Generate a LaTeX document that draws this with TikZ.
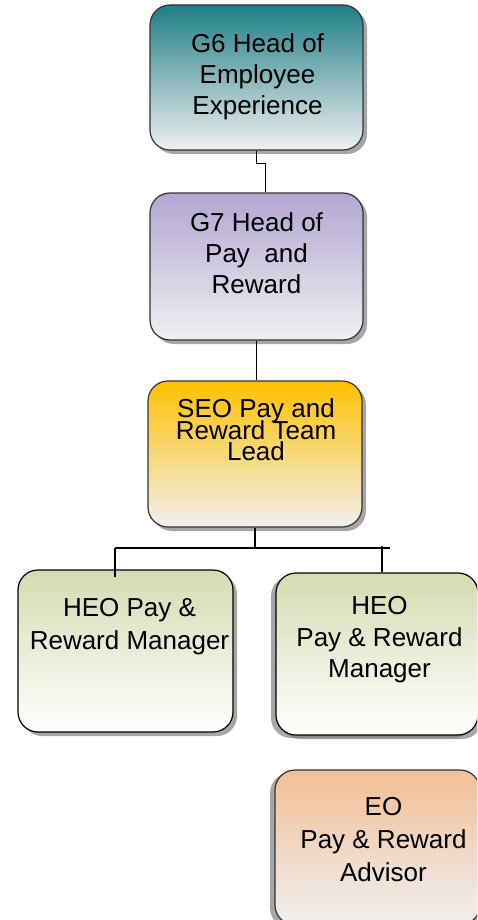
\documentclass[tikz,border=0pt]{standalone}
\usepackage{fontspec}
\setmainfont{Liberation Sans}
\usetikzlibrary{shadows}

\definecolor{g6top}{HTML}{1F7E86}
\definecolor{g7top}{HTML}{B2A6D1}
\definecolor{seotop}{HTML}{FFC000}
\definecolor{heotop}{HTML}{D4DCB0}
\definecolor{eotop}{HTML}{F2BF96}
\definecolor{paleend}{HTML}{F0F0F0}

\lineskiplimit=-100pt

\tikzset{
  post/.style={rectangle, draw=black!80, line width=1.2pt, rounded corners=20pt,
    inner sep=0pt, bottom color=paleend,
    drop shadow={shadow xshift=4pt, shadow yshift=-4pt, fill=black!50, opacity=0.7}},
  leftshadow/.style={drop shadow={shadow xshift=-5pt, shadow yshift=-3pt, fill=black!50, opacity=0.7}},
  txt/.style={align=center, inner sep=0pt, font=\fontsize{26}{31}\selectfont},
  link/.style={line width=1.3pt}
}

\begin{document}
\begin{tikzpicture}[x=1pt, y=-1pt]
	\path[use as bounding box, clip] (0,0) rectangle (477,920);

	% Top of the tree
	\node[post, minimum width=213pt, minimum height=145pt, top color=g6top] (g6) at (256.5,77.5) {};
	\node[txt] (g6txt) at (257.5,76.5) {G6 Head of\\Employee\\Experience};

	\node[post, minimum width=213pt, minimum height=147pt, top color=g7top] (g7) at (256.5,266.5) {};
	\node[txt] (g7txt) at (256.5,253.5) {G7 Head of\\Pay \ and\\Reward};

	\node[post, minimum width=214pt, minimum height=146pt, top color=seotop] (seo) at (255,454) {};
	\node[txt, font=\fontsize{26}{21.5}\selectfont] (seotxt) at (256,430) {SEO Pay and\\Reward Team\\Lead};

	% Team under the lead
	\node[post, draw=black, minimum width=215pt, minimum height=162pt, top color=heotop, bottom color=white] (heo1) at (125.5,651) {};
	\node[txt, font=\fontsize{26}{33}\selectfont] (heo1txt) at (129.5,627) {HEO Pay \&\\Reward Manager};

	\node[post, leftshadow, draw=black, minimum width=202pt, minimum height=162pt, top color=heotop, bottom color=white] (heo2) at (377,654) {};
	\node[txt, font=\fontsize{26}{31.5}\selectfont] (heo2txt) at (379.5,640) {HEO\\Pay \& Reward\\Manager};

	\node[post, leftshadow, minimum width=205pt, minimum height=155pt, top color=eotop] (eo) at (377.5,847.5) {};
	\node[txt, font=\fontsize{26}{33}\selectfont] (eotxt) at (383.5,840) {EO\\Pay \& Reward\\Advisor};

	% Reporting lines
	\coordinate (barL) at (115,548);
	\coordinate (barR) at (390,548);
	\coordinate (tickR) at (382,546);
	\draw[link] (g6.south) -- ++(0,13) -| ([xshift=9pt]g7.north);
	\draw[link] (g7.south) -- (g7.south |- seo.north);
	\draw[link] (seo.south) -- (seo.south |- barL);
	\draw[link] (barL) -- (barR);
	\draw[link] (barL) -- ++(0,29);
	\draw[link] (tickR) -- (tickR |- heo2.north);
\end{tikzpicture}
\end{document}
